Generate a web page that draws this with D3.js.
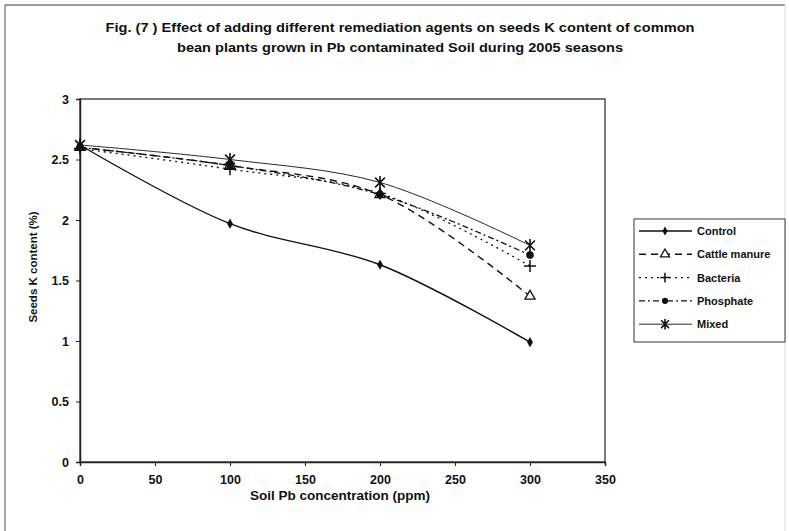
<!DOCTYPE html>
<html><head><meta charset="utf-8">
<script src="https://cdn.jsdelivr.net/npm/d3@7"></script>
<style>
html,body{margin:0;padding:0;background:#fff;}
svg text{font-family:"Liberation Sans",Arial,sans-serif;font-weight:bold;fill:#111;}
</style></head>
<body>
<svg id="c" width="789" height="531"></svg>
<script>
const xValues = [0, 100, 200, 300];
const seriesNames = ["Control", "Cattle manure", "Bacteria", "Phosphate", "Mixed"];
const control = [2.62, 1.97, 1.63, 0.99];
const cattleManure = [2.60, 2.45, 2.21, 1.37];
const bacteria = [2.59, 2.42, 2.22, 1.62];
const phosphate = [2.60, 2.45, 2.21, 1.71];
const mixed = [2.62, 2.50, 2.31, 1.79];
const xTicks = [0, 50, 100, 150, 200, 250, 300, 350];
const yTicks = [0, 0.5, 1, 1.5, 2, 2.5, 3];
const titleLines = ["Fig. (7 ) Effect of adding different remediation agents on seeds K content of common",
                    "bean plants grown in Pb contaminated Soil  during 2005 seasons"];
const xTitle = "Soil Pb concentration (ppm)";
const yTitle = "Seeds K content (%)";

const seriesValues = [control, cattleManure, bacteria, phosphate, mixed];
const styles = [
  {dash: null, w: 1.4, marker: "diamond"},
  {dash: "7,5", w: 1.4, marker: "triangle"},
  {dash: "2,4", w: 1.3, marker: "plus"},
  {dash: "6,3,2,3", w: 1.3, marker: "circle"},
  {dash: null, w: 0.9, marker: "star"}
];

const svg = d3.select("#c");
const L = 80, R = 605, T = 99, B = 462;
const x = d3.scaleLinear().domain([0, 350]).range([L, R]);
const y = d3.scaleLinear().domain([0, 3]).range([B, T]);

// page frame (scan)
svg.append("line").attr("x1",5).attr("x2",785).attr("y1",5).attr("y2",5).attr("stroke","#333").attr("stroke-width",1.2);
svg.append("line").attr("x1",5).attr("x2",5).attr("y1",5).attr("y2",531).attr("stroke","#555").attr("stroke-width",1);
svg.append("line").attr("x1",785).attr("x2",785).attr("y1",5).attr("y2",531).attr("stroke","#ddd").attr("stroke-width",1);

// title
const titleLens = [589, 446];
svg.selectAll("text.title").data(titleLines).enter().append("text")
  .attr("class","title").attr("x",400).attr("y",(d,i)=>32+i*20)
  .attr("text-anchor","middle").attr("font-size",13.5)
  .attr("textLength",(d,i)=>titleLens[i]).attr("lengthAdjust","spacingAndGlyphs")
  .text(d=>d);

// plot frame
svg.append("rect").attr("x",L).attr("y",T).attr("width",R-L).attr("height",B-T)
  .attr("fill","none").attr("stroke","#222").attr("stroke-width",1.2);

// axes
const xAxis = svg.append("g").attr("transform",`translate(0,${B})`)
  .call(d3.axisBottom(x).tickValues(xTicks).tickSize(4).tickPadding(9).tickFormat(d3.format("d")));
const yAxis = svg.append("g").attr("transform",`translate(${L},0)`)
  .call(d3.axisLeft(y).tickValues(yTicks).tickSize(4).tickPadding(7).tickFormat(d=>d3.format("")(d)));
[xAxis, yAxis].forEach(g=>{
  g.select(".domain").attr("stroke","#222").attr("stroke-width",1.5);
  g.selectAll(".tick line").attr("stroke","#222");
  g.selectAll(".tick text").attr("font-size",12.5).attr("font-family","Liberation Sans, Arial, sans-serif").attr("font-weight","bold").attr("fill","#111");
});

svg.append("text").attr("x",340).attr("y",500).attr("text-anchor","middle").attr("font-size",13.5).text(xTitle);
svg.append("text").attr("transform","translate(37,267) rotate(-90)").attr("text-anchor","middle").attr("font-size",11.5).text(yTitle);

// markers
function drawMarker(g, type, cx, cy, s) {
  s = s || 1;
  if (type === "diamond") {
    g.append("path").attr("d", d3.symbol(d3.symbolDiamond, 30*s)()).attr("transform",`translate(${cx},${cy})`).attr("fill","#111");
  } else if (type === "triangle") {
    g.append("path").attr("d", d3.symbol(d3.symbolTriangle, 45*s)()).attr("transform",`translate(${cx},${cy})`).attr("fill","#fff").attr("stroke","#111").attr("stroke-width",1.3);
  } else if (type === "plus") {
    const r = 6*s;
    g.append("path").attr("d",`M${cx-r},${cy}H${cx+r}M${cx},${cy-r}V${cy+r}`).attr("stroke","#111").attr("stroke-width",1.5).attr("fill","none");
  } else if (type === "circle") {
    g.append("circle").attr("cx",cx).attr("cy",cy).attr("r",3.8*s).attr("fill","#111");
  } else if (type === "star") {
    const r = 6.5*s;
    const a = r*0.75;
    g.append("path").attr("d",`M${cx-a},${cy-a}L${cx+a},${cy+a}M${cx+a},${cy-a}L${cx-a},${cy+a}M${cx},${cy-r}V${cy+r}`)
      .attr("stroke","#111").attr("stroke-width",1.6).attr("fill","none");
  }
}

const line = d3.line().x(d=>x(d[0])).y(d=>y(d[1])).curve(d3.curveCatmullRom.alpha(0.5));
const plot = svg.append("g");
seriesValues.forEach((vals, i) => {
  const pts = xValues.map((xv, j) => [xv, vals[j]]);
  plot.append("path").datum(pts).attr("d", line).attr("fill","none")
    .attr("stroke","#111").attr("stroke-width",styles[i].w)
    .attr("stroke-dasharray",styles[i].dash);
});
seriesValues.forEach((vals, i) => {
  xValues.forEach((xv, j) => drawMarker(plot, styles[i].marker, x(xv), y(vals[j])));
});

// legend
const lg = svg.append("g");
lg.append("rect").attr("x",634).attr("y",219).attr("width",151).attr("height",123)
  .attr("fill","#fff").attr("stroke","#333").attr("stroke-width",1);
seriesNames.forEach((name, i) => {
  const ly = 231 + i*23.3;
  lg.append("line").attr("x1",639).attr("x2",692).attr("y1",ly).attr("y2",ly)
    .attr("stroke","#111").attr("stroke-width",styles[i].w).attr("stroke-dasharray",styles[i].dash);
  drawMarker(lg, styles[i].marker, 665, ly, 0.8);
  lg.append("text").attr("x",697).attr("y",ly+4).attr("font-size",11).text(name);
});
</script>
</body></html>
